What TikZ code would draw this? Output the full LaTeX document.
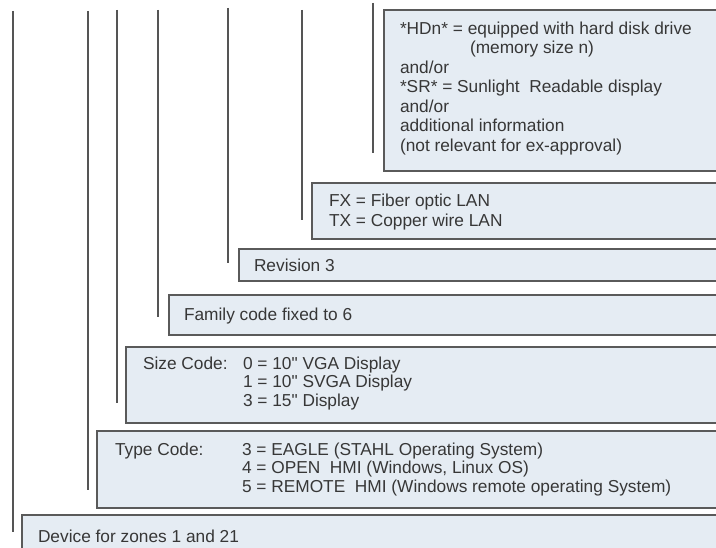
\documentclass[tikz,border=0pt]{standalone}
\usepackage{fontspec}
\setmainfont{Liberation Sans}[Ligatures=TeXOff]
\definecolor{boxfill}{RGB}{229,236,243}
\definecolor{boxline}{RGB}{90,90,90}
\definecolor{leadline}{RGB}{85,85,85}
\definecolor{txt}{RGB}{55,55,55}
\begin{document}
\begin{tikzpicture}[x=1pt,y=-1pt,
  box/.style={draw=boxline, fill=boxfill, line width=1.3pt, anchor=north west, inner sep=0pt, outer sep=0pt},
  lbl/.style={anchor=base west, inner sep=0pt, outer sep=0pt, text=txt, font=\fontsize{17.3}{19}\selectfont},
  lead/.style={draw=leadline, line width=1.3pt}]
\useasboundingbox[fill=white] (0,0) rectangle (716,548);
% boxes
\node[box, minimum width=346pt, minimum height=161pt] (b7) at (384,10) {};
\node[box, minimum width=418pt, minimum height=56pt] (b6) at (312,183) {};
\node[box, minimum width=491pt, minimum height=32pt] (b5) at (239,249) {};
\node[box, minimum width=561pt, minimum height=40pt] (b4) at (169,295) {};
\node[box, minimum width=604pt, minimum height=76pt] (b3) at (126,347) {};
\node[box, minimum width=633pt, minimum height=77pt] (b2) at (97,431) {};
\node[box, minimum width=708pt, minimum height=45pt] (b1) at (22,515) {};
% lead lines
\coordinate (t1) at (13,11);  \coordinate (e1) at (13,532);
\coordinate (t2) at (88,11);  \coordinate (e2) at (88,490);
\coordinate (t3) at (117,10); \coordinate (e3) at (117,403);
\coordinate (t4) at (158,10); \coordinate (e4) at (158,317);
\coordinate (t5) at (228,8);  \coordinate (e5) at (228,263);
\coordinate (t6) at (302,10); \coordinate (e6) at (302,220);
\coordinate (t7) at (373,3);  \coordinate (e7) at (373,153);
\foreach \i in {1,...,7} {\draw[lead] (t\i) -- (e\i);}
% texts
\node[lbl] (h1) at (400,35) {*HDn* = equipped with hard disk drive};
\node[lbl] (h2) at (470,54) {(memory size n)};
\node[lbl] (h3) at (400,74) {and/or};
\node[lbl] (h4) at (400,93) {*SR* = Sunlight\ \ Readable display};
\node[lbl] (h5) at (400,113) {and/or};
\node[lbl] (h6) at (400,132) {additional information};
\node[lbl] (h7) at (400,152) {(not relevant for ex-approval)};
\node[lbl] (f1) at (329,207) {FX = Fiber optic LAN};
\node[lbl] (f2) at (329,227) {TX = Copper wire LAN};
\node[lbl] (r1) at (254,272) {Revision 3};
\node[lbl] (fa) at (184,321) {Family code fixed to 6};
\node[lbl] (s0) at (143,370) {Size Code:};
\node[lbl] (s1) at (243,370) {0 = 10" VGA Display};
\node[lbl] (s2) at (243,388) {1 = 10" SVGA Display};
\node[lbl] (s3) at (243,407) {3 = 15" Display};
\node[lbl] (y0) at (115,456) {Type Code:};
\node[lbl] (y1) at (242,456) {3 = EAGLE (STAHL Operating System)};
\node[lbl] (y2) at (242,474) {4 = OPEN\ \ HMI (Windows, Linux OS)};
\node[lbl] (y3) at (242,493) {5 = REMOTE\ \ HMI (Windows remote operating System)};
\node[lbl] (d1) at (38,543) {Device for zones 1 and 21};
\end{tikzpicture}
\end{document}
